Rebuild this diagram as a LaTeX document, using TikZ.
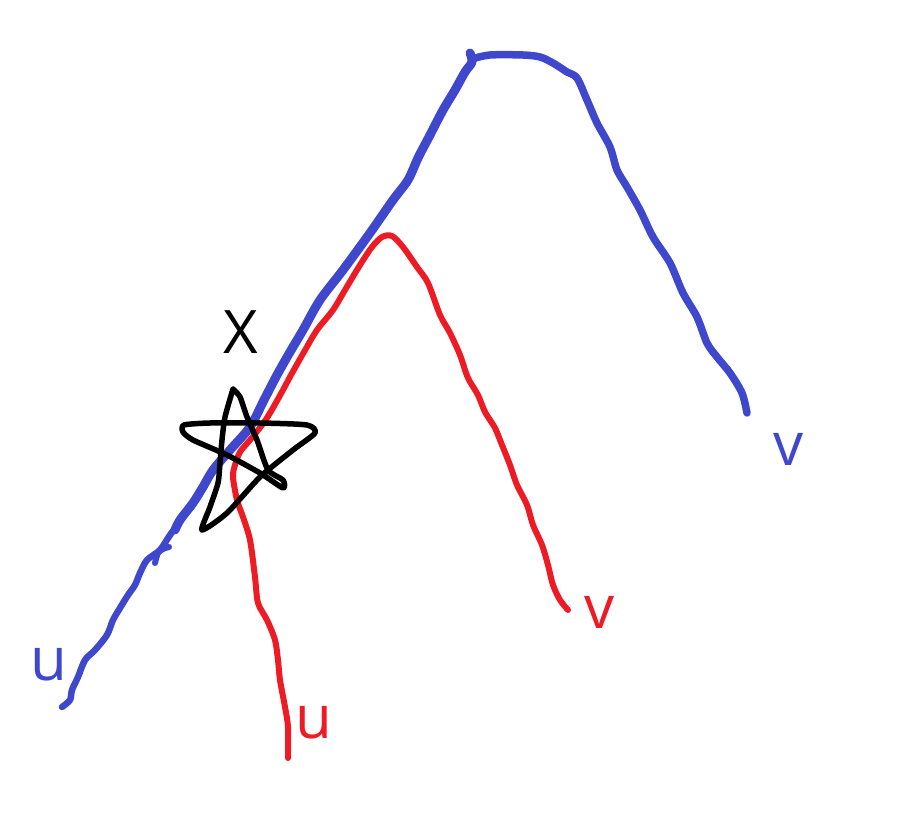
\documentclass[tikz,border=0pt]{standalone}
\usepackage{fontspec}
\setmainfont{Open Sans}
\definecolor{pblue}{HTML}{3F48CC}
\definecolor{pred}{HTML}{ED1C24}
\begin{document}
\begin{tikzpicture}[x=1pt,y=-1pt,
  stroke/.style={line cap=round,line join=round},
  lbl/.style={anchor=base,inner sep=0pt,font=\fontsize{60}{72}\selectfont}]
\useasboundingbox (0,0) rectangle (902,813);
% blue path
\draw[stroke,pblue,line width=6.5] plot[smooth,tension=0.5] coordinates {(62,707) (70,700) (72,690) (78,677) (85,660) (95,650) (107,635) (113,620) (120,608) (128,595) (135,585) (140,573) (147,560) (160,550) (170,535) (180,522)};
\draw[stroke,pblue,line width=6] plot[smooth,tension=0.5] coordinates {(155,563) (158,553) (163,549) (169,547)};
\draw[stroke,pblue,line width=9] plot[smooth,tension=0.5] coordinates {(175,530) (180,520) (193,503) (203,487) (213,470) (230,450) (250,427) (264,400) (277,375) (290,352) (303,330) (320,300) (343,270) (370,233) (393,200) (408,180) (418,158) (430,135) (443,110) (455,90) (465,72) (472,62) (470,53)};
\draw[stroke,pblue,line width=7.5] plot[smooth,tension=0.5] coordinates {(472,59) (490,55) (523,55) (540,57) (553,63) (567,72) (577,78) (587,100) (597,123) (610,147) (617,170) (627,187) (640,210) (653,237) (670,263) (683,293) (697,317) (707,343) (717,357) (730,373) (742,393) (747,413)};
% red path
\draw[stroke,pred,line width=6] plot[smooth,tension=0.5] coordinates {(288,758) (288,727) (285,707) (280,680) (278,660) (275,640) (267,620) (258,603) (255,577) (250,540) (243,517) (237,500) (233,477) (235,465) (240,452) (250,440) (262,425) (270,413) (283,390) (291,375) (304,352) (317,330) (333,310) (345,290) (360,265) (372,247) (382,237) (392,236) (403,247) (417,267) (428,283) (440,315) (450,333) (460,355) (468,378) (478,395) (485,412) (495,428) (502,445) (510,465) (517,485) (527,505) (533,525) (542,545) (548,565) (553,585) (560,600) (568,610)};
% star
\draw[stroke,black,line width=5.5] plot[smooth,tension=0.4] coordinates {(233,389) (225,417) (222,440) (220,463) (218,483) (210,507) (202,530) (227,513) (260,477) (293,450) (315,433) (307,425) (260,423) (210,423) (184,425) (183,432) (193,440) (227,455) (260,473) (283,488) (283,480) (268,470) (257,440) (247,417) (240,397) (233,389)};
% labels
\node[lbl,black] (X) at (241,353) {X};
\node[lbl,pblue] (ub) at (49,680) {u};
\node[lbl,pred] (ur) at (314,738) {u};
\node[lbl,pred] (vr) at (600,628) {v};
\node[lbl,pblue] (vb) at (789,465) {v};
\end{tikzpicture}
\end{document}
